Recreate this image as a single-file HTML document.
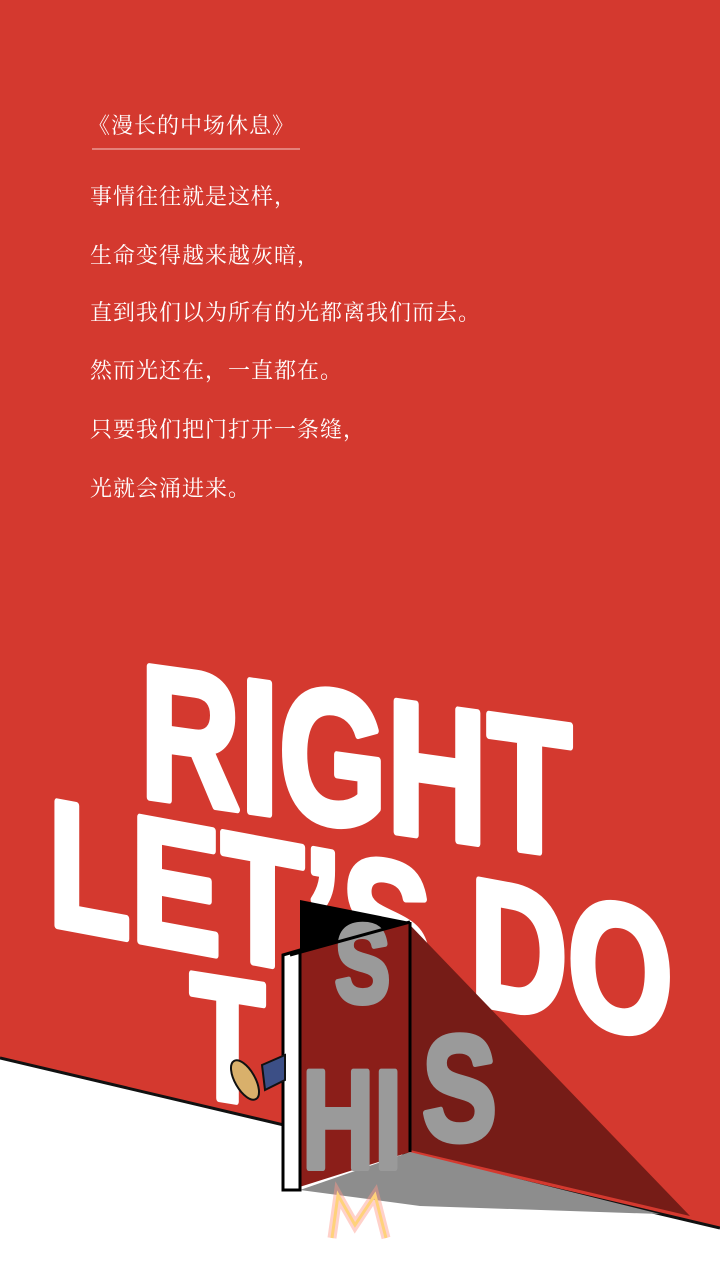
<!DOCTYPE html>
<html><head><meta charset="utf-8"><style>
html,body{margin:0;padding:0;width:720px;height:1280px;overflow:hidden;background:#d4392f}
svg{display:block}
.cn{font-family:"Liberation Serif","Noto Serif CJK SC",serif;fill:#fff;font-size:22px;letter-spacing:1px}
.big{font-family:"Liberation Sans",sans-serif;font-weight:bold;fill:#fff;stroke:#fff;stroke-width:7;stroke-linejoin:round}
</style></head><body>
<svg width="720" height="1280" viewBox="0 0 720 1280">
<rect width="720" height="1280" fill="#d4392f"/>
<text class="cn" x="88" y="133">《漫长的中场休息》</text>
<line x1="92" y1="149" x2="300" y2="149" stroke="#f3c9c5" stroke-width="1"/>
<g>
<text class="cn" x="90" y="204">事情往往就是这样，</text>
<text class="cn" x="90" y="263">生命变得越来越灰暗，</text>
<text class="cn" x="90" y="320">直到我们以为所有的光都离我们而去。</text>
<text class="cn" x="90" y="378">然而光还在，一直都在。</text>
<text class="cn" x="90" y="437">只要我们把门打开一条缝，</text>
<text class="cn" x="90" y="496">光就会涌进来。</text>
</g>
<g transform="translate(140,796) skewY(8)">
<text class="big" x="0" y="0" font-size="190" textLength="432" lengthAdjust="spacingAndGlyphs">RIGHT</text>
</g>
<g transform="translate(48,924) skewY(10.5)">
<text class="big" x="0" y="0" font-size="180" textLength="625" lengthAdjust="spacingAndGlyphs">LET’S DO</text>
</g>
<g transform="translate(190,1094) skewY(9)">
<text class="big" x="0" y="0" font-size="175" textLength="75" lengthAdjust="spacingAndGlyphs">T</text>
</g>
<polygon points="0,1058 720,1228 720,1280 0,1280" fill="#fff"/>
<line x1="0" y1="1058" x2="720" y2="1228" stroke="#111" stroke-width="3"/>
<polygon points="410,925 690,1216 410,1150" fill="#761c17"/>
<polygon points="300,1190 410,1152 660,1214 420,1206" fill="#8d8d8d"/>
<polygon points="300,900 410,922 300,955" fill="#000"/>
<polygon points="290,955 410,922 410,1152 290,1190" fill="#8b1e19"/>
<g fill="#9a9a9a" stroke="#9a9a9a" stroke-width="6" stroke-linejoin="round" font-family="Liberation Sans,sans-serif" font-weight="bold">
<text x="302" y="1168" font-size="140" textLength="100" lengthAdjust="spacingAndGlyphs">HI</text>
<text x="422" y="1140" font-size="150" textLength="75" lengthAdjust="spacingAndGlyphs">S</text>
<text x="335" y="1002" font-size="110" textLength="55" lengthAdjust="spacingAndGlyphs">S</text>
</g>
<polygon points="283,955 300,950 300,1190 283,1190" fill="#fff" stroke="#000" stroke-width="3"/>
<line x1="290" y1="955" x2="410" y2="922" stroke="#000" stroke-width="3"/>
<line x1="410" y1="922" x2="410" y2="1152" stroke="#000" stroke-width="3"/>
<g>
<polygon points="262,1065 285,1055 285,1080 265,1090" fill="#3c4f86" stroke="#111" stroke-width="2"/>
<ellipse cx="245" cy="1080" rx="10" ry="22" transform="rotate(-30 245 1080)" fill="#d9b06b" stroke="#111" stroke-width="2"/>
</g>
<g>
<polyline points="332,1238 338,1195 355,1225 375,1195 386,1238" fill="none" stroke="#ff9a8a" stroke-width="9" opacity="0.45"/>
<polyline points="332,1238 338,1195 355,1225 375,1195 386,1238" fill="none" stroke="#ffd27a" stroke-width="3"/>
</g>
</svg>
</body></html>
